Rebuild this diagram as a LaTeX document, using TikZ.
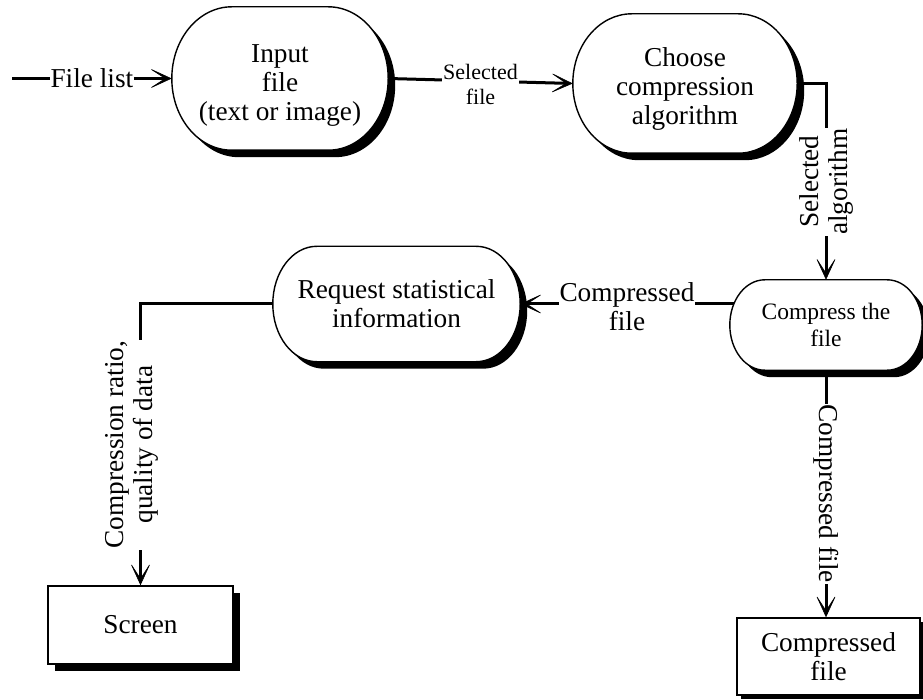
\documentclass[tikz,border=0pt]{standalone}
\usepackage{fontspec}
\setmainfont{Liberation Serif}
\usetikzlibrary{arrows.meta,calc,shadows,backgrounds}

\tikzset{
  big/.style={font=\fontsize{27.3}{29}\selectfont},
  mid/.style={font=\fontsize{23.5}{27}\selectfont},
  small/.style={font=\fontsize{22}{25}\selectfont},
  oval/.style={rectangle, inner sep=0pt, align=center, big},
  box/.style={rectangle, draw, line width=1.4pt, fill=white, inner sep=0pt,
    align=center, big},
  conn/.style={line width=3pt},
  arr/.style={conn, -{Stealth[length=24pt,width=22pt,inset=17pt,line width=0.6pt]}},
  lab/.style={fill=white, inner sep=1pt, align=center, big},
}

% outline of a process bubble: straight top and bottom, elliptic ends
\newcommand\ovalpath[4]{% style, node, end radius, offset
  \path[#1] let \p1=(#2.north west), \p2=(#2.south east), \n1={(\y1-\y2)/2} in
    (\x1+#3+#4,\y1-#4) -- (\x2-#3+#4,\y1-#4)
    arc[start angle=90,end angle=-90,x radius=#3,y radius=\n1]
    -- (\x1+#3+#4,\y2-#4)
    arc[start angle=270,end angle=90,x radius=#3,y radius=\n1] -- cycle;}
\newcommand\ovalnode[2]{%
  \ovalpath{fill=black}{#1}{#2}{7pt}%
  \ovalpath{draw,fill=white,line width=1.4pt}{#1}{#2}{0pt}}

\begin{document}
\begin{tikzpicture}[x=1pt,y=1pt]
\useasboundingbox (0,0) rectangle (923,-700);

% process bubbles
\node[oval, minimum width=216pt, minimum height=143pt] (in) at (280,-78.5)
  {\rule{0pt}{32pt}Input\\file\\(text or image)};
\node[oval, minimum width=224pt, minimum height=139pt] (ch) at (685,-83.5)
  {\rule{0pt}{30pt}Choose\\compression\\algorithm};
\node[oval, minimum width=247pt, minimum height=115pt] (rq) at (396.5,-304)
  {Request statistical\\information};
\node[oval, mid, minimum width=192pt, minimum height=90pt] (cmp) at (826,-325)
  {Compress the\\file};

\begin{pgfonlayer}{background}
  \ovalnode{in}{60pt}
  \ovalnode{ch}{59pt}
  \ovalnode{rq}{44pt}
  \ovalnode{cmp}{35pt}
\end{pgfonlayer}

% terminators
\node[box, minimum width=185pt, minimum height=78pt,
  drop shadow={shadow xshift=7pt, shadow yshift=-7pt, fill=black, opacity=1}]
  (scr) at (140.5,-625) {Screen};
\node[box, minimum width=183pt, minimum height=77pt,
  drop shadow={shadow xshift=4pt, shadow yshift=-4pt, fill=black, opacity=1}]
  (out) at (828.5,-656.5) {Compressed\\file};

% data flows
\coordinate (src) at (12,-78.5);
\draw[arr] (src) -- node[lab] {File list} (in.west);
\draw[arr] (in.east) -- node[lab, small, yshift=-3pt] {Selected\\file} (ch.west);
\draw[arr] (ch.east) -| node[lab, pos=0.75, rotate=90] {Selected\\algorithm} (cmp.north);
\coordinate (cmpout) at ($(cmp.west)+(4,21)$);
\draw[arr] (cmpout) -- node[lab, yshift=-3pt] {Compressed\\file} (cmpout -| rq.east);
\draw[arr] (rq.west) -| node[lab, pos=0.75, xshift=-9pt, rotate=90]
  {Compression ratio,\\quality of data} (scr.north);
\draw[arr] (cmp.south) -- node[lab, rotate=-90] {Compressed file} (cmp.south |- out.north);
\end{tikzpicture}
\end{document}
